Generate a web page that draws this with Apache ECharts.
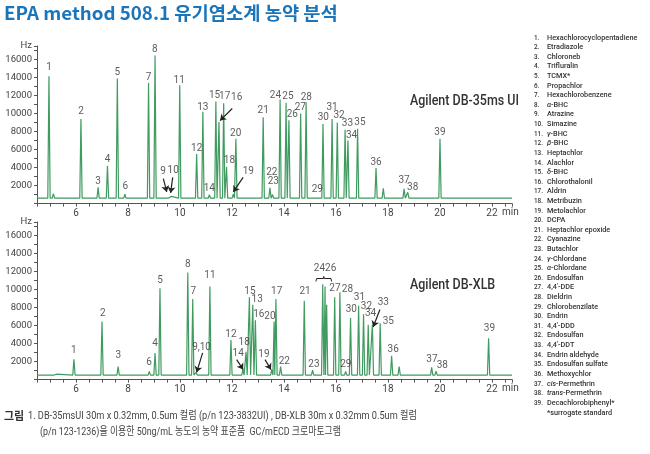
<!DOCTYPE html>
<html><head><meta charset="utf-8">
<script src="https://cdn.jsdelivr.net/npm/echarts@6/dist/echarts.min.js"></script>
<style>html,body{margin:0;padding:0;background:#fff}#c{width:650px;height:454px}</style>
</head><body><div id="c"></div>
<script>
// ---- data ----
const timeMin = 4.5, timeMax = 22.77;
const topBaseline = 600;
const botBaseline = 500;
// DB-35ms UI peaks (retention time in min, height in Hz)
const topTimes   = [4.96, 5.13, 5.58, 6.19, 6.85, 7.21, 7.59, 7.88, 8.62, 8.79, 9.04, 9.50, 9.66, 9.99, 10.64, 10.88, 11.13, 11.38, 11.50, 11.68, 11.79, 12.05, 12.15, 13.20, 13.46, 13.56, 13.85, 14.08, 14.19, 14.64, 14.85, 15.29, 15.50, 15.85, 16.05, 16.35, 16.46, 16.83, 17.54, 17.82, 18.62, 18.76, 20.00];
const topHeights = [14150, 1100, 750, 9400, 1800, 4200, 13900, 1050, 800, 13400, 16450, 750, 800, 13150, 5500, 10200, 1000, 11350, 9050, 11150, 4100, 1050, 7200, 9600, 1750, 1000, 11550, 11200, 9250, 10000, 11250, 800, 8850, 9400, 9000, 8200, 7000, 8300, 3950, 1700, 1650, 1250, 7200];
// DB-XLB peaks
const botTimes   = [4.93, 5.10, 5.25, 5.92, 7.00, 7.62, 8.45, 8.82, 9.04, 9.23, 10.30, 10.49, 10.62, 11.15, 11.96, 12.42, 12.54, 12.67, 12.80, 12.90, 13.53, 13.62, 13.69, 13.87, 14.78, 15.10, 15.49, 15.58, 15.64, 15.95, 16.15, 16.37, 16.56, 16.87, 17.06, 17.24, 17.40, 17.70, 18.14, 18.43, 19.68, 19.85, 21.87];
const botHeights = [650, 700, 600, 2250, 6450, 1450, 700, 900, 2950, 10150, 11900, 8950, 800, 10350, 4400, 1100, 3100, 9150, 8300, 6600, 1100, 6450, 8950, 1450, 8750, 1050, 10600, 10350, 8300, 9150, 9700, 900, 6850, 8200, 7250, 6100, 6100, 6250, 2650, 1450, 1350, 950, 4600];
// peak number labels: [text, time, Hz]
const topLabels = [['1',4.96,15080],['2',6.19,10260],['3',6.85,2480],['4',7.21,4890],['5',7.59,14520],['6',7.90,1930],['7',8.79,14040],['8',9.03,17110],['9',9.35,3520],['10',9.74,3670],['11',9.97,13700],['12',10.64,6110],['13',10.88,10700],['14',11.13,1670],['15',11.33,12000],['17',11.72,11930],['16',12.18,11740],['18',11.90,4780],['20',12.14,7780],['19',12.63,3520],['21',13.20,10330],['22',13.53,3480],['23',13.59,2410],['24',13.67,12000],['25',14.15,11850],['26',14.32,9890],['27',14.63,10700],['28',14.86,11810],['29',15.28,1560],['30',15.51,9520],['31',15.85,10700],['32',16.12,9780],['33',16.44,8890],['34',16.60,7590],['35',16.92,9040],['36',17.54,4590],['37',18.62,2590],['38',18.95,1740],['39',20.00,7850]];
const botLabels = [['1',5.92,3220],['2',7.03,7330],['3',7.63,2670],['6',8.81,1930],['4',9.04,4000],['5',9.23,11040],['8',10.30,12780],['7',10.51,9810],['9,10',10.83,3590],['11',11.15,11560],['12',11.96,5000],['14',12.24,2850],['18',12.47,4070],['15',12.69,9810],['13',12.97,8890],['16',13.03,7220],['20',13.46,7040],['17',13.72,9810],['19',13.23,2780],['22',14.01,2040],['21',14.81,9810],['23',15.15,1670],['2426',15.58,12300],['27',15.96,10070],['28',16.44,10000],['30',16.59,7780],['31',16.90,9150],['32',17.17,8070],['34',17.33,7300],['33',17.82,8520],['35',18.01,6480],['29',16.38,1670],['36',18.20,3330],['37',19.69,2220],['38',20.09,1590],['39',21.90,5630]];
// arrows: [fromTime, fromHz, toTime, toHz]
const topArrows = [[9.36,2780,9.49,1300],[9.72,2920,9.64,1190],[12.01,10560,11.54,9220],[12.43,2920,12.05,1300]];
const botArrows = [[10.87,2960,10.64,810],[12.18,2220,12.43,1110],[13.27,2220,13.50,1110],[17.69,7780,17.43,5850]];
// bracket over peaks 24/26 (bottom): [time, Hz] vertices
const bracketPts = [[15.23,10900],[15.25,11200],[15.51,11200],[15.53,11450],[15.55,11200],[15.81,11200],[15.83,10900]];
const compounds = ['Hexachlorocyclopentadiene','Etradiazole','Chloroneb','Trifluralin','TCMX*','Propachlor','Hexachlorobenzene','{i|α}-BHC','Atrazine','Simazine','{i|γ}-BHC','{i|β}-BHC','Heptachlor','Alachlor','{i|δ}-BHC','Chlorothalonil','Aldrin','Metribuzin','Metolachlor','DCPA','Heptachlor epoxide','Cyanazine','Butachlor','{i|γ}-Chlordane','{i|α}-Chlordane','Endosulfan',"4,4'-DDE",'Dieldrin','Chlorobenzilate','Endrin',"4,4'-DDD",'Endosulfan',"4,4'-DDT",'Endrin aldehyde','Endosulfan sulfate','Methoxychlor','{i|cis}-Permethrin','{i|trans}-Permethrin','Decachlorobiphenyl*'];
const titleText = 'EPA method 508.1 유기염소계 농약 분석';
const caption1 = '1. DB-35msUI 30m x 0.32mm, 0.5um 컬럼 (p/n 123-3832UI) , DB-XLB 30m x 0.32mm 0.5um 컬럼';
const caption2 = '(p/n 123-1236)을 이용한 50ng/mL 농도의 농약 표준품  GC/mECD 크로마토그램';

// ---- build ----
const halfW = 0.045;
function trace(times, heights, base) {
  const pts = [];
  times.forEach((t, i) => { pts.push([t - halfW, base], [t, heights[i]], [t + halfW, base]); });
  pts.sort((a, b) => a[0] - b[0]);
  return [[timeMin, base]].concat(pts, [[timeMax, base]]);
}
const FONT = 'Roboto, "Noto Sans CJK KR", sans-serif';
const axisColor = '#555';
function xAxisCfg(gi) {
  return {
    type: 'value', gridIndex: gi, min: timeMin, max: timeMax, interval: 0.5,
    axisLine: {show: true, onZero: false, lineStyle: {color: axisColor, width: 1}},
    axisTick: {show: true, length: 3, lineStyle: {color: axisColor}},
    axisLabel: {margin: 5, fontSize: 10, color: '#444', fontFamily: FONT,
      formatter: v => (v >= 6 && v <= 22 && Math.abs(v % 2) < 1e-9) ? String(v) : ''},
    splitLine: {show: false},
    name: 'min', nameLocation: 'end', nameGap: -10,
    nameTextStyle: {fontSize: 10, color: '#444', fontFamily: FONT, verticalAlign: 'top', padding: [4, 0, 0, 0]}
  };
}
function yAxisCfg(gi) {
  return {
    type: 'value', gridIndex: gi, min: 0, max: 17500, interval: 1000,
    axisLine: {show: true, lineStyle: {color: axisColor, width: 1}},
    axisTick: {show: true, length: 3, lineStyle: {color: axisColor}},
    axisLabel: {margin: 5, fontSize: 9.5, color: '#444', fontFamily: FONT,
      formatter: v => (v >= 2000 && v <= 16000 && v % 2000 === 0) ? String(v) : ''},
    splitLine: {show: false},
    name: 'Hz', nameLocation: 'end', nameGap: 0,
    nameTextStyle: {fontSize: 9.5, color: '#444', fontFamily: FONT, align: 'right', verticalAlign: 'middle', padding: [0, 5, 0, 0]}
  };
}
function labelSeries(gi, labels, arrows) {
  return {
    type: 'scatter', xAxisIndex: gi, yAxisIndex: gi, symbolSize: 0, silent: true, z: 5,
    data: labels.map(l => [l[1], l[2], l[0]]),
    label: {show: true, position: 'inside', formatter: p => p.value[2], fontSize: 10, color: '#333', fontFamily: FONT},
    markLine: {
      silent: true, symbol: ['none', 'arrow'], symbolSize: 6, animation: false,
      label: {show: false},
      lineStyle: {color: '#222', width: 1.2, type: 'solid'},
      data: arrows.map(a => [{coord: [a[0], a[1]]}, {coord: [a[2], a[3]]}])
    }
  };
}
const lineStyle = {color: '#3f9b5f', width: 1.2};
const bracketSegs = [];
for (let i = 0; i < bracketPts.length - 1; i++) bracketSegs.push([{coord: bracketPts[i]}, {coord: bracketPts[i + 1]}]);

const graphics = [];
graphics.push({type: 'text', x: 4, y: 13, scaleX: 1.04, style: {text: titleText, font: 'bold 18px "Noto Sans CJK KR", sans-serif', fill: '#1b75bb', verticalAlign: 'middle'}});
graphics.push({type: 'text', x: 410, y: 101, scaleX: 0.89, style: {text: 'Agilent DB-35ms UI', font: '500 14px Roboto, sans-serif', fill: '#333', verticalAlign: 'middle'}});
graphics.push({type: 'text', x: 410, y: 285, scaleX: 0.89, style: {text: 'Agilent DB-XLB', font: '500 14px Roboto, sans-serif', fill: '#333', verticalAlign: 'middle'}});
const legTop = 37.7, legStep = 9.61;
compounds.forEach((name, i) => {
  const y = legTop + i * legStep;
  graphics.push({type: 'text', x: 534, y: y, scaleX: 0.85, style: {text: (i + 1) + '.', font: '500 7.5px Roboto, sans-serif', fill: '#333', verticalAlign: 'middle'}});
  graphics.push({type: 'text', x: 547, y: y, scaleX: 0.97, style: {text: name, font: '500 7.5px Roboto, sans-serif', fill: '#333', verticalAlign: 'middle',
    rich: {i: {fontStyle: 'italic', fontWeight: 500, fontSize: 7.5, fontFamily: 'Roboto', fill: '#333'}}}});
});
graphics.push({type: 'text', x: 547, y: legTop + 39 * legStep + 0.3, scaleX: 0.97, style: {text: '*surrogate standard', font: '500 7.5px Roboto, sans-serif', fill: '#333', verticalAlign: 'middle'}});
graphics.push({type: 'text', x: 4, y: 416, style: {text: '그림', font: 'bold 11px "Noto Sans CJK KR", sans-serif', fill: '#333', verticalAlign: 'middle'}});
graphics.push({type: 'text', x: 28, y: 416, scaleX: 0.835, style: {text: caption1, font: '11px Roboto, "Noto Sans CJK KR", sans-serif', fill: '#444', verticalAlign: 'middle'}});
graphics.push({type: 'text', x: 40, y: 432, scaleX: 0.81, style: {text: caption2, font: '11px Roboto, "Noto Sans CJK KR", sans-serif', fill: '#444', verticalAlign: 'middle'}});

const chart = echarts.init(document.getElementById('c'), null, {renderer: 'canvas'});
chart.setOption({
  animation: false,
  backgroundColor: '#fff',
  grid: [
    {left: 37, top: 46, width: 475, height: 157.6, outerBoundsMode: 'none'},
    {left: 37, top: 222, width: 475, height: 157.6, outerBoundsMode: 'none'}
  ],
  xAxis: [xAxisCfg(0), xAxisCfg(1)],
  yAxis: [yAxisCfg(0), yAxisCfg(1)],
  series: [
    {type: 'line', xAxisIndex: 0, yAxisIndex: 0, data: trace(topTimes, topHeights, topBaseline), showSymbol: false, symbol: 'none', lineStyle: lineStyle, silent: true},
    {type: 'line', xAxisIndex: 1, yAxisIndex: 1, data: trace(botTimes, botHeights, botBaseline), showSymbol: false, symbol: 'none', lineStyle: lineStyle, silent: true,
      markLine: {silent: true, symbol: 'none', animation: false, label: {show: false}, lineStyle: {color: '#222', width: 1, type: 'solid'}, data: bracketSegs}},
    labelSeries(0, topLabels, topArrows),
    labelSeries(1, botLabels, botArrows)
  ],
  graphic: graphics
});
</script></body></html>
